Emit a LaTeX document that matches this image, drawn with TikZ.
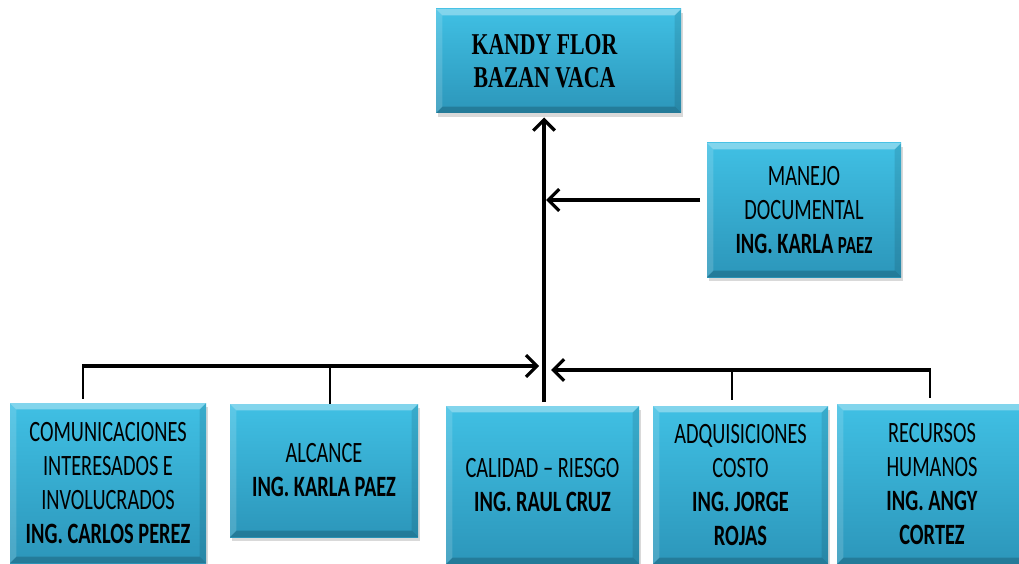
\documentclass[tikz,border=0pt]{standalone}
\usepackage{fontspec}
\setmainfont{Carlito}
\newfontfamily\boxfont[FakeStretch=0.69]{Carlito}
\newfontfamily\headfont[FakeStretch=0.72]{Liberation Serif}
\usetikzlibrary{arrows.meta,shadows}

\definecolor{boxtop}{RGB}{64,192,228}
\definecolor{boxbot}{RGB}{44,150,186}
\def\bv{4.5pt}

\tikzset{
  px/.style 2 args={minimum width=#1*0.025cm, minimum height=#2*0.025cm},
  unit/.style={rectangle, inner sep=0pt, align=center,
    top color=boxtop, bottom color=boxbot, draw=none,
    drop shadow={shadow xshift=1.5pt, shadow yshift=-2.5pt, opacity=0.3},
    font=\boxfont\fontsize{21}{24.2}\selectfont,
    path picture={
      \coordinate (pNW) at (path picture bounding box.north west);
      \coordinate (pNE) at (path picture bounding box.north east);
      \coordinate (pSW) at (path picture bounding box.south west);
      \coordinate (pSE) at (path picture bounding box.south east);
      \fill[white,opacity=.35] (pNW) -- (pNE) -- ([shift={(-\bv,-\bv)}]pNE) -- ([shift={(\bv,-\bv)}]pNW) -- cycle;
      \fill[white,opacity=.15] (pNW) -- ([shift={(\bv,-\bv)}]pNW) -- ([shift={(\bv,\bv)}]pSW) -- (pSW) -- cycle;
      \fill[black,opacity=.18] (pSW) -- ([shift={(\bv,\bv)}]pSW) -- ([shift={(-\bv,\bv)}]pSE) -- (pSE) -- cycle;
      \fill[black,opacity=.10] (pNE) -- (pSE) -- ([shift={(-\bv,\bv)}]pSE) -- ([shift={(-\bv,-\bv)}]pNE) -- cycle;
    }},
  headfnt/.style={font=\headfont\bfseries\fontsize{21.5}{23.5}\selectfont},
  trunk/.style={line width=2.5pt},
  rail/.style={line width=3.1pt},
  drop/.style={line width=0.9pt},
  tip/.style={-{Straight Barb[length=2.7mm,width=5.4mm,line width=2.3pt]}},
}

\begin{document}
\begin{tikzpicture}[x=0.025cm, y=-0.025cm]
  \useasboundingbox (0,0) rectangle (1019,564);

  % head of the organisation
  \node[unit, headfnt, px={245}{104}] (jefe) at (558.5,61)
    {\hspace*{-20pt}KANDY FLOR\\\hspace*{-20pt}BAZAN VACA};

  % staff unit on the side
  \node[unit, px={194}{134}] (manejo) at (804,210)
    {MANEJO\\DOCUMENTAL\\\textbf{ING. KARLA {\fontsize{17.5}{24.2}\selectfont PAEZ}}};

  % line units
  \node[unit, px={196}{160}] (b1) at (108,483)
    {COMUNICACIONES\\INTERESADOS E\\INVOLUCRADOS\\\textbf{ING. CARLOS PEREZ}};
  \node[unit, px={188}{133}] (b2) at (324,470.5)
    {ALCANCE\\\textbf{ING. KARLA PAEZ}};
  \node[unit, px={193}{158}] (b3) at (542.5,485)
    {CALIDAD – RIESGO\\\textbf{ING. RAUL CRUZ}};
  \node[unit, px={175}{158}] (b4) at (740.5,485)
    {ADQUISICIONES\\COSTO\\\textbf{ING. JORGE}\\\textbf{ROJAS}};
  \node[unit, px={190}{160}] (b5) at (932,484)
    {RECURSOS\\HUMANOS\\\textbf{ING. ANGY}\\\textbf{CORTEZ}};

  % connection points
  \coordinate (vfoot) at (544,402);
  \coordinate (mstart) at (700,200);
  \coordinate (lend) at (83,366);
  \coordinate (ltick) at (330,366);
  \coordinate (rend) at (930,370);
  \coordinate (rtick) at (732,370);

  % main trunk up to the head
  \draw[trunk, tip, shorten >=3pt] (vfoot) -- (vfoot |- jefe.south);
  \draw[rail, tip, shorten >=1.5pt] (mstart) -- (mstart -| vfoot);

  % left rail
  \draw[drop, shorten >=3pt] (lend) -- (lend |- b1.north);
  \draw[drop] (ltick) -- (ltick |- b2.north);
  \draw[rail, tip, shorten >=3.5pt] ([xshift=-0.45pt]lend) -- (lend -| vfoot);

  % right rail
  \draw[drop, shorten >=4pt] (rend) -- (rend |- b5.north);
  \draw[drop, shorten >=4pt] (rtick) -- (rtick |- b4.north);
  \draw[rail, tip, shorten >=5pt] ([xshift=0.45pt]rend) -- (rend -| vfoot);
\end{tikzpicture}
\end{document}
